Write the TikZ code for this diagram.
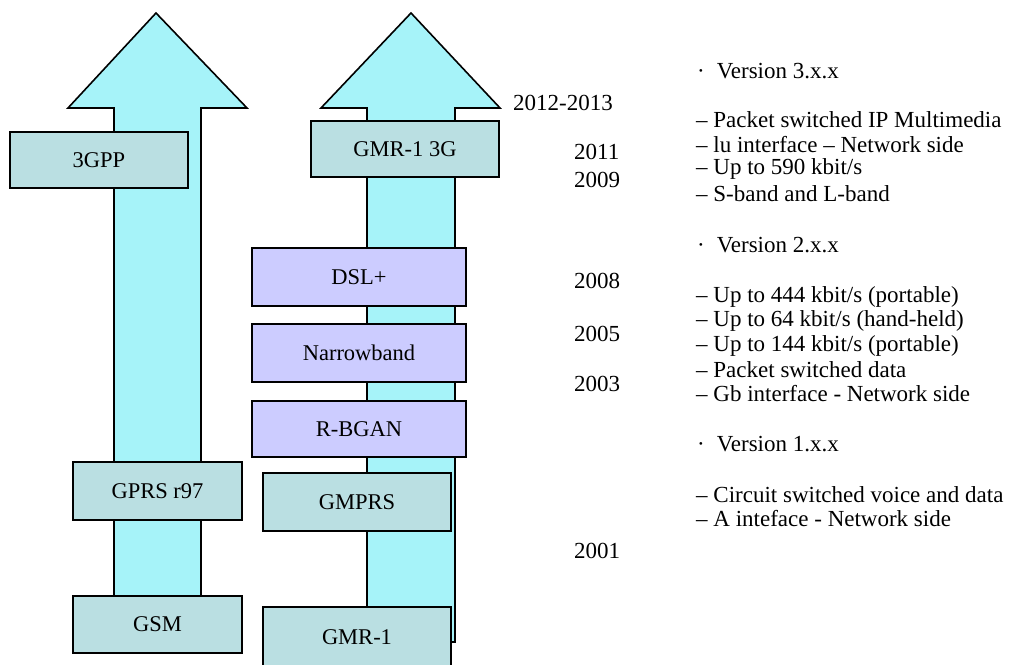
\documentclass[tikz,border=0pt]{standalone}
\usepackage{fontspec}
\setmainfont{Liberation Serif}
\definecolor{arrowc}{RGB}{166,243,249}
\definecolor{tealbox}{RGB}{186,223,226}
\definecolor{purbox}{RGB}{204,204,255}
\begin{document}
\begin{tikzpicture}[x=1pt,y=-1pt,
  arrowshape/.style={draw=black,fill=arrowc,line width=1.6pt,line join=miter},
  tbox/.style={draw=black,fill=tealbox,line width=1.6pt,inner sep=0pt,font=\fontsize{22.5}{26}\selectfont},
  pbox/.style={draw=black,fill=purbox,line width=1.6pt,inner sep=0pt,font=\fontsize{22.5}{26}\selectfont},
  txt/.style={anchor=west,inner sep=0pt,font=\fontsize{23}{27}\selectfont},
  yr/.style={anchor=west,inner sep=0pt,font=\fontsize{23}{27}\selectfont}]
\useasboundingbox (0,0) rectangle (1009,664);
\clip (0,0) rectangle (1009,664);
% left arrow
\draw[arrowshape] (114,640) -- (114,108) -- (68,108) -- (156,13) -- (247,108) -- (201,108) -- (201,640) -- cycle;
% right arrow
\draw[arrowshape] (367,642) -- (367,108) -- (321,108) -- (411,13) -- (500,108) -- (455,108) -- (455,642) -- cycle;
% left boxes
\node[tbox,minimum width=178pt,minimum height=56pt] (b3gpp) at (99,160) {3GPP};
\node[tbox,minimum width=169pt,minimum height=58pt] (bgprs) at (157.5,491) {GPRS r97};
\node[tbox,minimum width=169pt,minimum height=57pt] (bgsm) at (157.5,624.5) {GSM};
% right boxes
\node[tbox,minimum width=188pt,minimum height=56pt] (bgmr3g) at (405,149) {GMR-1 3G};
\node[pbox,minimum width=214pt,minimum height=58pt] (bdsl) at (359,277) {DSL+};
\node[pbox,minimum width=214pt,minimum height=58pt] (bnarrow) at (359,353) {Narrowband};
\node[pbox,minimum width=214pt,minimum height=56pt] (bbgan) at (359,429) {R-BGAN};
\node[tbox,minimum width=188pt,minimum height=58pt] (bgmprs) at (357,502) {GMPRS};
\node[tbox,minimum width=188pt,minimum height=60pt] (bgmr) at (357,637) {GMR-1};
% years
\node[yr] (y1213) at (513,103) {2012-2013};
\node[yr] (y2011) at (574,152) {2011};
\node[yr] (y2009) at (574,180) {2009};
\node[yr] (y2008) at (574,281) {2008};
\node[yr] (y2005) at (574,334) {2005};
\node[yr] (y2003) at (574,384) {2003};
\node[yr] (y2001) at (574,551) {2001};
% descriptions
\node[txt] (v3) at (697,71) {·\hspace{12pt}Version 3.x.x};
\node[txt] (l1) at (696,120) {– Packet switched IP Multimedia};
\node[txt] (l2) at (696,145) {– lu interface – Network side};
\node[txt] (l3) at (696,169) {– Up to 590 kbit/s};
\node[txt] (l4) at (696,194) {– S-band and L-band};
\node[txt] (v2) at (697,245) {·\hspace{12pt}Version 2.x.x};
\node[txt] (l5) at (696,297) {– Up to 444 kbit/s (portable)};
\node[txt] (l6) at (696,321) {– Up to 64 kbit/s (hand-held)};
\node[txt] (l7) at (696,346) {– Up to 144 kbit/s (portable)};
\node[txt] (l8) at (696,370) {– Packet switched data};
\node[txt] (l9) at (696,394) {– Gb interface - Network side};
\node[txt] (v1) at (697,444) {·\hspace{12pt}Version 1.x.x};
\node[txt] (l10) at (696,495) {– Circuit switched voice and data};
\node[txt] (l11) at (696,519) {– A inteface - Network side};
\end{tikzpicture}
\end{document}
